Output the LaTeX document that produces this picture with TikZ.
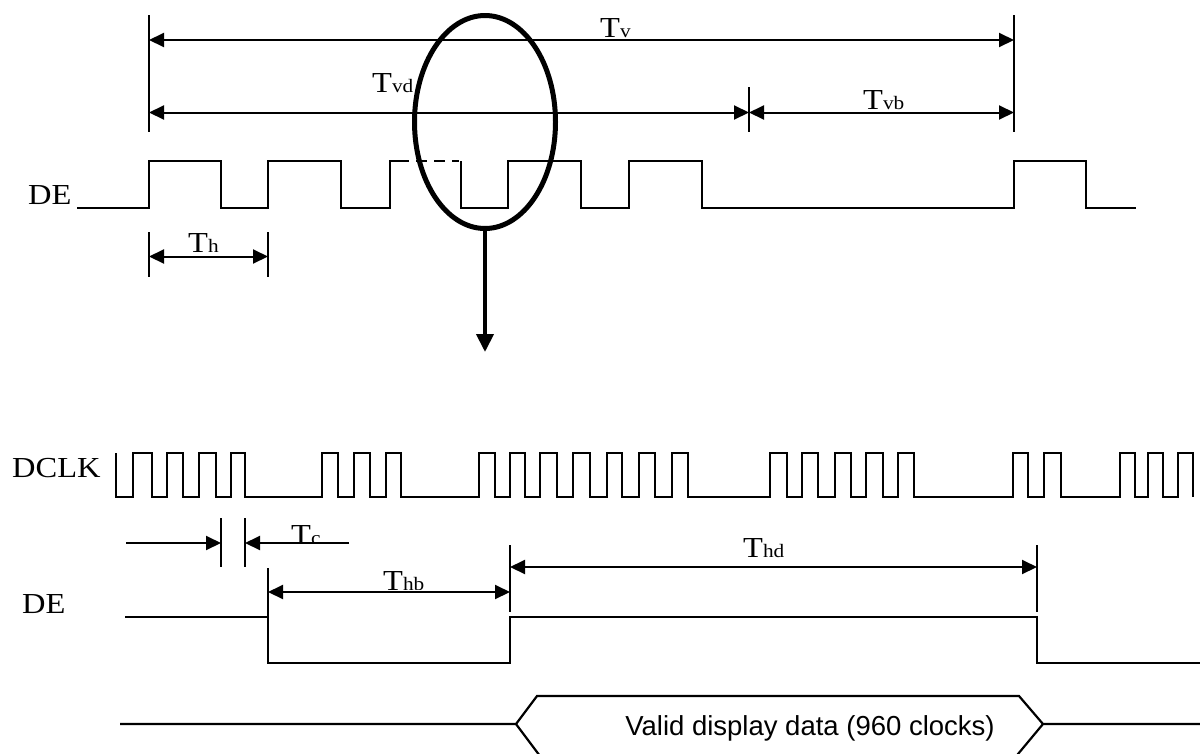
\documentclass[tikz,border=0pt]{standalone}
\usepackage{fontspec}
\usetikzlibrary{arrows.meta,shapes.geometric}
\newfontfamily\tser[FakeStretch=1.12]{Liberation Serif}
\newfontfamily\tsans{Liberation Sans}
\newcommand\TT[1]{{\tser\fontsize{29}{29}\selectfont T\fontsize{19}{19}\selectfont #1}}
\begin{document}
\begin{tikzpicture}[x=1pt,y=-1pt,
  wave/.style={line width=2.2pt, line join=miter},
  tickln/.style={line width=1.3pt},
  dim/.style={line width=2pt, {Triangle[length=15pt,width=14pt]}-{Triangle[length=15pt,width=14pt]}},
  dimr/.style={line width=2pt, -{Triangle[length=15pt,width=14pt]}},
  lab/.style={inner sep=0pt, anchor=base west},
  sig/.style={inner sep=0pt, anchor=base west, font=\tser\fontsize{29}{29}\selectfont},
]
\path[use as bounding box, clip] (0,0) rectangle (1200,753);
\fill[white] (0,0) rectangle (1200,753);

% ---------- top section ----------
\draw[tickln] (149,15) -- (149,132);
\draw[tickln] (1014,15) -- (1014,132);
\draw[tickln] (749,87) -- (749,132);
\draw[dim] (149,40) -- (1014,40);
\draw[dim] (149,112.5) -- (749,112.5);
\draw[dim] (749,112.5) -- (1014,112.5);
\node[lab] (tv) at (600,37) {\TT{v}};
\node[lab] (tvd) at (372,92) {\TT{vd}};
\node[lab] (tvb) at (863,109) {\TT{vb}};

\node[sig] (de1) at (28,204) {DE};
\draw[wave] (77,208) -- (149,208) -- (149,161) -- (221,161) -- (221,208) -- (268,208)
  -- (268,161) -- (341,161) -- (341,208) -- (390,208) -- (390,161) -- (398,161);
\draw[line width=1.8pt, dash pattern=on 11pt off 7pt] (398,161) -- (459,161);
\draw[wave] (461,161) -- (461,208) -- (508,208) -- (508,161) -- (581,161) -- (581,208)
  -- (629,208) -- (629,161) -- (702,161) -- (702,208) -- (1014,208) -- (1014,161)
  -- (1086,161) -- (1086,208) -- (1136,208);

\draw[tickln] (149,232) -- (149,277);
\draw[tickln] (268,232) -- (268,277);
\draw[dim] (149,256.5) -- (268,256.5);
\node[lab] (th) at (188,252) {\TT{h}};

\node[draw, ellipse, line width=5pt, minimum width=141pt, minimum height=213pt, inner sep=0pt] (zoomell) at (485,122) {};
\coordinate (zoomtip) at (485,352);
\draw[line width=4pt, -{Triangle[length=18pt,width=17pt]}] (zoomell.south) -- (zoomtip);

% ---------- DCLK ----------
\node[sig] (dclk) at (12,477) {DCLK};
\draw[wave] (116,453) |- (133,497) |- (151.7,453) |- (166.7,497) |- (183.3,453) |- (199.3,497)
  |- (216,453) |- (231,497) |- (245,453) |- (321.7,497) |- (338.3,453) |- (354,497)
  |- (370,453) |- (386,497) |- (401,453) |- (479.3,497) |- (495,453) |- (510,497)
  |- (525,453) |- (540,497) |- (556.7,453) |- (572.7,497) |- (590,453) |- (606.7,497)
  |- (621.7,453) |- (639.3,497) |- (655,453) |- (671.7,497) |- (688.3,453) |- (770,497)
  |- (786.7,453) |- (801.7,497) |- (818.3,453) |- (835,497) |- (850.7,453) |- (866,497)
  |- (882.7,453) |- (898.3,497) |- (914,453) |- (1012.7,497) |- (1028.3,453) |- (1044,497)
  |- (1060.7,453) |- (1120,497) |- (1135,453) |- (1148.3,497) |- (1162.7,453) |- (1178.3,497)
  |- (1193.3,453) -- (1193.3,497);

% ---------- Tc ----------
\draw[tickln] (221,518) -- (221,567);
\draw[tickln] (245,518) -- (245,567);
\coordinate (tcl) at (126,543);
\coordinate (tcr) at (349,543);
\draw[dimr] (tcl) -- (221,543);
\draw[dimr] (tcr) -- (245,543);
\begin{scope}
  \clip (280,500) rectangle (345,541.5);
  \node[lab] (tc) at (291,544.5) {\TT{c}};
\end{scope}

% ---------- bottom DE ----------
\node[sig] (de2) at (22,613) {DE};
\draw[tickln] (268,568) -- (268,616);
\draw[tickln] (510,545) -- (510,612);
\draw[tickln] (1037,545) -- (1037,612);
\draw[dim] (510,567) -- (1037,567);
\draw[dim] (268,592) -- (510,592);
\node[lab] (thd) at (743,557) {\TT{hd}};
\begin{scope}
  \clip (370,550) rectangle (440,589);
  \node[lab] (thb) at (383,590.5) {\TT{hb}};
\end{scope}
\draw[wave] (125,617) -- (268,617) -- (268,663) -- (510,663) -- (510,617) -- (1037,617)
  -- (1037,663) -- (1200,663);

% ---------- data bus ----------
\draw[wave] (120,724) -- (516,724) -- (537,696) -- (1019,696) -- (1043,724) -- (1205,724);
\draw[wave] (516,724) -- (543,760) -- (1013,760) -- (1043,724);
\node[inner sep=0pt, anchor=base, font=\tsans\fontsize{27.5}{27.5}\selectfont] (valid) at (810,735) {Valid display data (960 clocks)};
\end{tikzpicture}
\end{document}
